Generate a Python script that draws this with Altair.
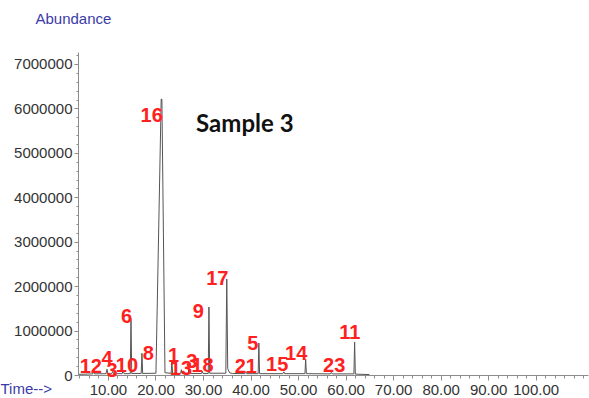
import altair as alt
import pandas as pd

# Chromatogram trace: retention time (min) and abundance (counts)
trace_time = [
    3.9,
    6.8, 7.0, 7.2,
    9.6, 9.8, 10.0,
    10.8, 11.0, 11.2,
    13.0, 13.2, 13.4,
    14.7, 14.85, 15.0,
    17.0, 17.15, 17.3,
    20.1, 21.2, 21.35, 22.0,
    23.3, 23.45, 23.6,
    25.3, 25.45, 25.6,
    26.9, 27.05, 27.2,
    29.7, 29.85, 30.0,
    31.1, 31.25, 31.4,
    34.8, 35.0, 35.2, 35.6, 36.2,
    38.8, 39.0, 39.2,
    41.6, 41.75, 41.9,
    46.8, 47.0, 47.2,
    51.45, 51.6, 51.75,
    56.8, 57.0, 57.2,
    61.75, 61.9, 62.05,
    65.0,
]
trace_abund = [
    15000,
    25000, 90000, 25000,
    30000, 130000, 30000,
    30000, 80000, 30000,
    30000, 110000, 30000,
    30000, 1270000, 35000,
    35000, 490000, 35000,
    40000, 6210000, 6210000, 50000,
    40000, 300000, 40000,
    35000, 120000, 35000,
    35000, 170000, 35000,
    35000, 90000, 35000,
    35000, 1530000, 40000,
    40000, 2160000, 140000, 50000, 35000,
    30000, 80000, 30000,
    30000, 720000, 30000,
    30000, 70000, 30000,
    30000, 360000, 30000,
    25000, 60000, 25000,
    25000, 740000, 20000,
    10000,
]

# Peak numbers and where each number is written (time, abundance)
peak_labels = ["16", "17", "9", "6", "5", "11", "14", "8", "12", "4", "3",
               "10", "1", "13", "3", "18", "21", "15", "23"]
label_time = [19.2, 33.0, 29.0, 13.9, 40.5, 60.9, 49.6, 18.5, 6.4, 9.8, 10.85,
              14.0, 23.8, 25.35, 27.65, 29.9, 39.0, 45.6, 57.6]
label_abund = [5690000, 2030000, 1280000, 1170000, 560000, 810000, 340000,
               340000, 45000, 225000, -45000, 70000, 290000, 0, 160000, 70000,
               45000, 90000, 70000]

sample_name = ["Sample 3"]
sample_time = [38.8]
sample_abund = [5470000]

x_major = [10, 20, 30, 40, 50, 60, 70, 80, 90, 100]
x_minor = [t for t in range(4, 112, 2) if t not in x_major]
y_major = [0, 1000000, 2000000, 3000000, 4000000, 5000000, 6000000, 7000000]
y_minor = [v for v in range(0, 7200001, 200000) if v not in y_major]

trace = pd.DataFrame({"time": trace_time, "abund": trace_abund})
labels = pd.DataFrame({"label": peak_labels, "time": label_time, "abund": label_abund})
sample = pd.DataFrame({"name": sample_name, "time": sample_time, "abund": sample_abund})

x_scale = alt.Scale(domain=[3.7, 111.0], nice=False, zero=False)
y_scale = alt.Scale(domain=[0, 7270000], nice=False)

axis_common = dict(
    grid=False, domainColor="#8c8c8c", tickColor="#8c8c8c",
    labelColor="#333333", labelFont="Liberation Sans", labelFontSize=15,
    titleColor="#3b3ba8", titleFont="Liberation Sans", titleFontSize=15,
    titleFontWeight="normal",
)

line = alt.Chart(trace).mark_line(color="#555555", strokeWidth=1).encode(
    x=alt.X("time:Q", scale=x_scale,
            axis=alt.Axis(values=x_major, format=".2f", tickSize=5, labelPadding=2,
                          title="Time-->", titleAngle=0, titleAlign="left",
                          titleX=-78, titleY=18, titleBaseline="alphabetic",
                          labelOverlap=False, **axis_common)),
    y=alt.Y("abund:Q", scale=y_scale,
            axis=alt.Axis(values=y_major, format="d", tickSize=4, labelPadding=2,
                          title="Abundance", titleAngle=0, titleAlign="left",
                          titleX=-43, titleY=-29, titleBaseline="alphabetic",
                          labelOverlap=False, **axis_common)),
)

numbers = alt.Chart(labels).mark_text(
    font="Liberation Sans", fontWeight="bold", fontSize=20, color="#ff2020",
    align="center", baseline="alphabetic",
).encode(
    x=alt.X("time:Q", scale=x_scale, axis=None),
    y=alt.Y("abund:Q", scale=y_scale, axis=None),
    text="label:N",
)

# Sample name, also carrying the minor tick marks of both axes
title_text = alt.Chart(sample).mark_text(
    font="Lato", fontWeight="bold", fontSize=24, color="#111111",
    align="center", baseline="alphabetic",
).encode(
    x=alt.X("time:Q", scale=x_scale,
            axis=alt.Axis(values=x_minor + [110], labels=False, title=None, domain=False,
                          tickSize=3, tickColor="#8c8c8c", grid=False, orient="bottom")),
    y=alt.Y("abund:Q", scale=y_scale,
            axis=alt.Axis(values=y_minor, labels=False, title=None, domain=False,
                          tickSize=2, tickColor="#8c8c8c", grid=False, orient="left")),
    text="name:N",
)

chart = alt.layer(line, numbers, title_text).resolve_axis(
    x="independent", y="independent"
).properties(
    width=510, height=323,
    padding={"left": 78, "top": 52, "right": 1, "bottom": 23},
    autosize="none",
    background="white",
).configure_view(stroke=None)

chart.save("out.html", embed_options={"renderer": "svg", "actions": False})
